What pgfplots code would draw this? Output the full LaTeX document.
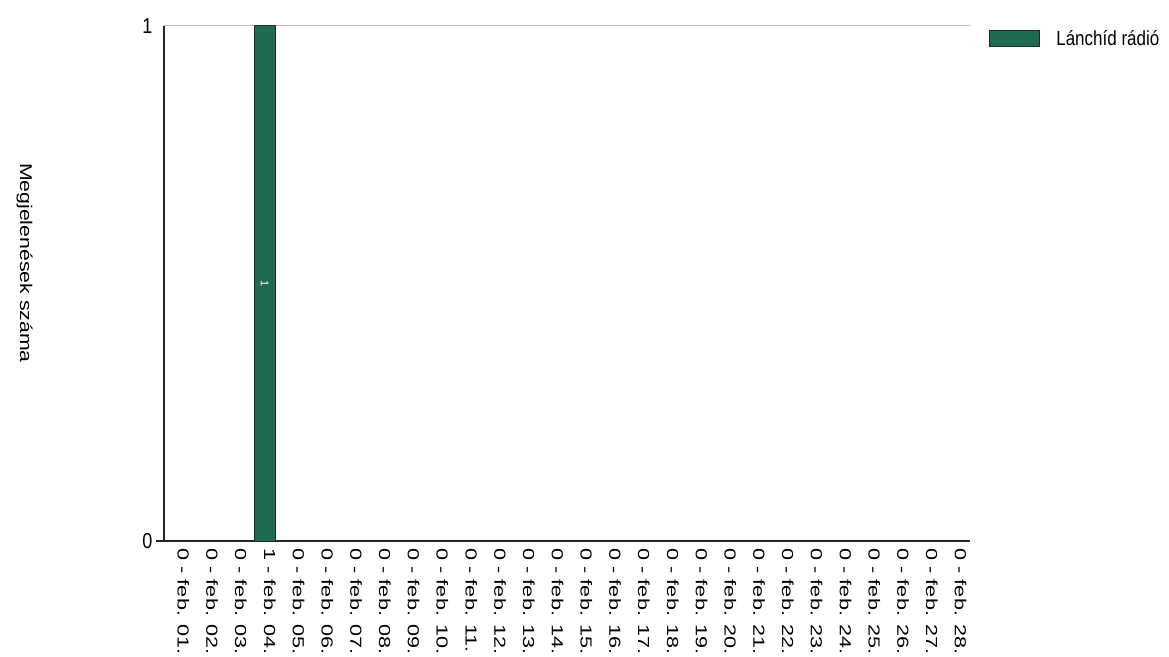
\documentclass[border=0pt]{standalone}
\usepackage{fontspec}
\setmainfont{Liberation Sans}
\usepackage{pgfplots}
\pgfplotsset{compat=1.18}
\definecolor{barGreen}{RGB}{31,106,80}
\begin{document}
\begin{tikzpicture}
\path[use as bounding box] (-164bp,-116bp) rectangle (1005bp,541bp);
\begin{axis}[
  at={(0,0)}, anchor=south west,
  scale only axis, width=806bp, height=515bp,
  xmin=0.5, xmax=28.5, ymin=0, ymax=1,
  axis lines=left,
  axis line style={-, black!85, line width=1.2bp},
  every outer x axis line/.append style={shorten <=-8bp},
  /pgf/number format/assume math mode=true,
  xtick={1,...,28},
  xticklabels={0 - feb. 01.,0 - feb. 02.,0 - feb. 03.,1 - feb. 04.,0 - feb. 05.,0 - feb. 06.,0 - feb. 07.,0 - feb. 08.,0 - feb. 09.,0 - feb. 10.,0 - feb. 11.,0 - feb. 12.,0 - feb. 13.,0 - feb. 14.,0 - feb. 15.,0 - feb. 16.,0 - feb. 17.,0 - feb. 18.,0 - feb. 19.,0 - feb. 20.,0 - feb. 21.,0 - feb. 22.,0 - feb. 23.,0 - feb. 24.,0 - feb. 25.,0 - feb. 26.,0 - feb. 27.,0 - feb. 28.},
  xtick style={draw=none},
  ytick={0,1},
  ytick style={draw=none},
  ymajorgrids,
  grid style={black!25, line width=1bp},
  xticklabel style={font=\fontsize{16bp}{16bp}\selectfont, xshift=5bp, rotate=-90, xscale=1.35, anchor=west, inner sep=4bp},
  yticklabel style={font=\fontsize{18bp}{18bp}\selectfont, yscale=1.2, xshift=-6bp},
  every axis y label/.style={at={(axis description cs:-0.173,0.54)}, anchor=center, rotate=-90, xscale=1.25},
  ylabel={Megjelenések száma},
  label style={font=\fontsize{17bp}{17bp}\selectfont},
  legend style={at={(1.02,1)}, anchor=north west, draw=none, fill=none,
    font=\fontsize{17bp}{17bp}\selectfont, nodes={yscale=1.2},
    /tikz/every odd column/.append style={column sep=14bp}},
  legend image code/.code={\draw[#1] (0bp,-8bp) rectangle (50bp,8bp);},
]
\addplot[ybar, bar width=21bp, fill=barGreen, draw=black!85, line width=1bp]
  coordinates {(1,0) (2,0) (3,0) (4,1) (5,0) (6,0) (7,0) (8,0) (9,0) (10,0)
               (11,0) (12,0) (13,0) (14,0) (15,0) (16,0) (17,0) (18,0) (19,0) (20,0)
               (21,0) (22,0) (23,0) (24,0) (25,0) (26,0) (27,0) (28,0)};
\addlegendentry{Lánchíd rádió}
\addplot[draw=none, forget plot, nodes near coords={\mbox{1}},
  nodes near coords style={anchor=center, rotate=-90, text=white,
    font=\fontsize{11bp}{11bp}\selectfont}]
  coordinates {(4,0.5)};
\end{axis}
\end{tikzpicture}
\end{document}
